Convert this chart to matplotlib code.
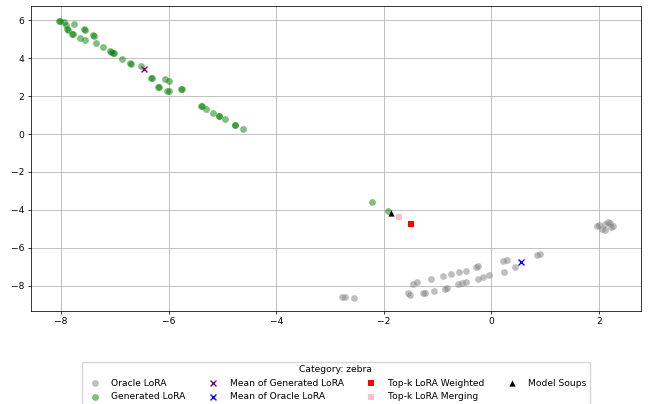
import numpy as np
import matplotlib
matplotlib.use("Agg")
import matplotlib.pyplot as plt

# Oracle LoRA embeddings (2-D projection)
oracle_x = [-2.77, -2.73, -2.56, -1.55, -1.51, -1.45, -1.39, -1.28, -1.24, -1.13,
            -1.07, -0.90, -0.86, -0.82, -0.75, -0.60, -0.47, -0.62, -0.54, -0.47,
            -0.29, -0.25, -0.25, -0.15, -0.05, 0.22, 0.28, 0.24, 0.43, 0.85,
            0.90, 1.97, 2.00, 2.06, 2.11, 2.12, 2.17, 2.20, 2.23, 2.26]
oracle_y = [-8.58, -8.58, -8.63, -8.35, -8.46, -7.88, -7.79, -8.37, -8.35, -7.63,
            -8.26, -7.49, -8.14, -8.09, -7.35, -7.26, -7.19, -7.91, -7.84, -7.79,
            -7.00, -6.96, -7.61, -7.54, -7.45, -6.68, -6.65, -7.25, -7.02, -6.38,
            -6.32, -4.83, -4.78, -5.00, -5.04, -4.75, -4.65, -4.66, -4.88, -4.82]

# Generated LoRA embeddings
gen_x = [-8.04, -8.02, -7.94, -7.91, -7.76, -7.89, -7.87, -7.79, -7.77, -7.58,
         -7.56, -7.65, -7.55, -7.41, -7.38, -7.36, -7.23, -7.09, -7.08, -7.03,
         -7.02, -6.86, -6.72, -6.71, -6.52, -6.32, -6.31, -6.19, -6.18, -6.07,
         -6.00, -6.04, -5.99, -5.77, -5.76, -5.40, -5.38, -5.30, -5.18, -5.07,
         -5.06, -4.95, -4.77, -4.76, -4.62, -2.22, -1.93]
gen_y = [5.96, 5.95, 5.88, 5.74, 5.77, 5.51, 5.50, 5.28, 5.27, 5.51,
         5.50, 5.05, 4.93, 5.23, 5.17, 4.81, 4.60, 4.35, 4.34, 4.25,
         4.24, 3.96, 3.72, 3.71, 3.58, 2.95, 2.94, 2.49, 2.48, 2.88,
         2.77, 2.26, 2.25, 2.37, 2.36, 1.47, 1.46, 1.32, 1.12, 0.95,
         0.94, 0.77, 0.47, 0.46, 0.25, -3.56, -4.03]

mean_gen = (-6.46, 3.44)
mean_oracle = (0.55, -6.74)
topk_weighted = (-1.49, -4.72)
topk_merging = (-1.72, -4.35)
model_soups = (-1.87, -4.18)

category = "zebra"

fs = 6.6
plt.rcParams.update({
    "font.size": fs,
    "axes.linewidth": 0.55,
    "xtick.major.width": 0.55,
    "ytick.major.width": 0.55,
    "xtick.major.size": 2.3,
    "ytick.major.size": 2.3,
    "xtick.major.pad": 2.3,
    "ytick.major.pad": 2.3,
})

fig = plt.figure(figsize=(6.56, 4.04), dpi=100)
ax = fig.add_axes([31 / 656, 1 - 311 / 404, 610 / 656, 305 / 404])

ms = 24
ax.scatter(oracle_x, oracle_y, color="gray", alpha=0.5, s=ms, linewidths=0,
           label="Oracle LoRA")
ax.scatter(gen_x, gen_y, color="green", alpha=0.5, s=ms, linewidths=0,
           label="Generated LoRA")
ax.scatter(*mean_gen, color="purple", marker="x", s=18, linewidths=1.0,
           label="Mean of Generated LoRA")
ax.scatter(*mean_oracle, color="blue", marker="x", s=18, linewidths=1.0,
           label="Mean of Oracle LoRA")
ax.scatter(*topk_weighted, color="red", marker="s", s=20, linewidths=0,
           label="Top-k LoRA Weighted")
ax.scatter(*topk_merging, color="pink", marker="s", s=20, linewidths=0,
           label="Top-k LoRA Merging")
ax.scatter(*model_soups, color="black", marker="^", s=20, linewidths=0,
           label="Model Soups")

ax.set_xlim(-8.56, 2.78)
ax.set_ylim(-9.32, 6.74)
ax.set_xticks([-8, -6, -4, -2, 0, 2])
ax.set_yticks([-8, -6, -4, -2, 0, 2, 4, 6])
ax.grid(True, linewidth=0.55)
ax.set_axisbelow(True)

fig.legend(loc="upper center", bbox_to_anchor=(336 / 656, 1 - 357 / 404),
           ncol=4, title=f"Category: {category}", fontsize=fs,
           title_fontsize=fs, frameon=True)

fig.savefig("out.png", dpi=100)
